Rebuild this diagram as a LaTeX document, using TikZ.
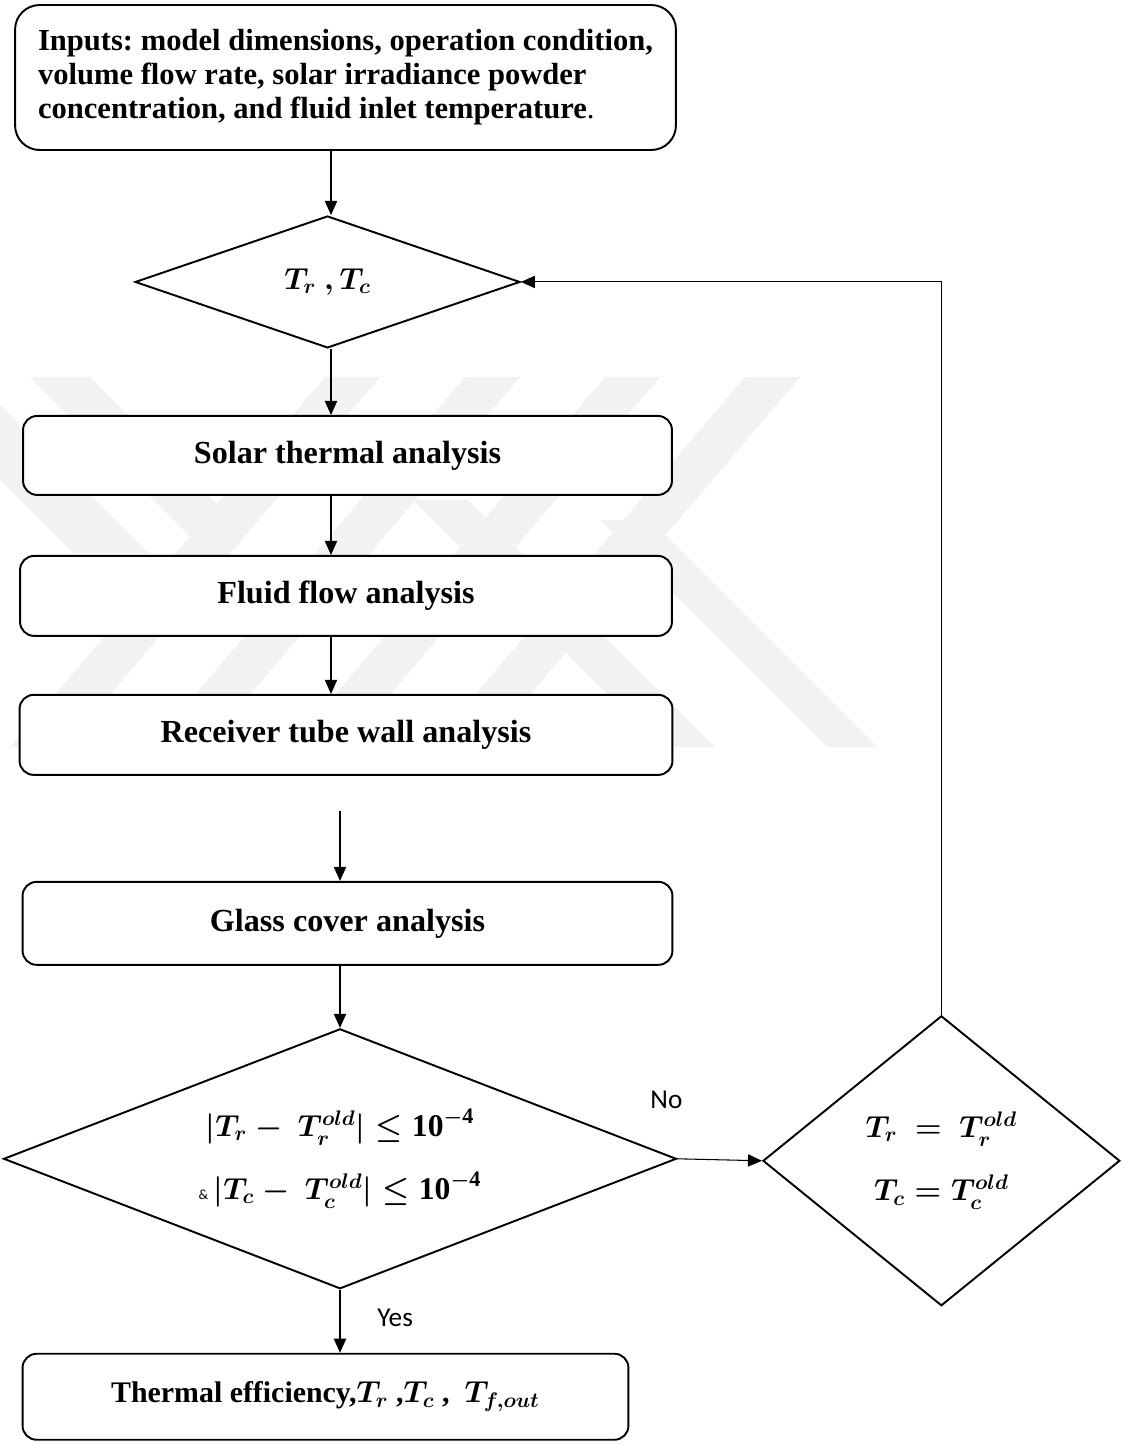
\documentclass[tikz,border=0pt]{standalone}
\usepackage{amsmath}
\usepackage{amssymb}
\usepackage{fontspec}
\setmainfont{Liberation Serif}
\newfontfamily\labelfont{Carlito}
\usetikzlibrary{shapes,arrows.meta}
\tikzstyle{decision} = [diamond, draw, line width=1.1pt, fill=white,
    inner sep=0pt, align=center, font=\boldmath\fontsize{18}{20}\selectfont]
\tikzstyle{block} = [rectangle, draw, line width=1.1pt, fill=white,
    rounded corners=8pt, align=center, font=\bfseries\boldmath\fontsize{18.3}{20}\selectfont]
\tikzstyle{line} = [draw, line width=0.6pt, -{Triangle[length=8pt,width=7pt]}]
\tikzstyle{tag} = [font=\labelfont\fontsize{15.5}{18}\selectfont]
\tikzstyle{wmark} = [fill=black!5]
\newcommand{\ten}{\textbf{10}^{-\textbf{4}}}

\begin{document}
\frenchspacing
\begin{tikzpicture}[x=0.02cm, y=-0.02cm, node distance=2.8cm]
\useasboundingbox (0,0) rectangle (1128,1446);
 % watermark
   \fill[wmark] (30,377) -- (90,377) -- (217,504) -- (190,536) -- cycle;
   \fill[wmark] (0,405) -- (148,553) -- (73,553) -- (0,480) -- cycle;
   \foreach \t in {325,465,605,745}
     \fill[wmark] (\t,377) -- ++(55,0) -- ++(-314.5,370) -- ++(-55,0) -- cycle;
   \fill[wmark] (413,500) -- (468,500) -- (715,747) -- (660,747) -- cycle;
   \fill[wmark] (600,520) -- (650,520) -- (877,747) -- (827,747) -- cycle;

 % Place nodes
   \node[block, align=left, rounded corners=14pt, minimum width=13.22cm,
     minimum height=2.9cm, font=\bfseries\fontsize{17.4}{19.3}\selectfont] (inputs) at (345.5,77.5)
     {Inputs: model dimensions, operation condition,\\
      volume flow rate, solar irradiance powder\\
      concentration, and fluid inlet temperature{\mdseries .}};
    \node [decision, below of=inputs, node distance=4.09cm, xshift=-0.36cm, aspect=2.9,
      minimum width=7.7cm, minimum height=2.64cm] (guess) {$T_r\ ,T_c$};
    \node [block, below of=guess, node distance=3.47cm, xshift=0.4cm,
      minimum width=12.98cm, minimum height=1.58cm] (solar) {Solar thermal analysis};
    \node [block, below of=solar, node distance=2.81cm, xshift=-0.03cm,
      minimum width=13.04cm, minimum height=1.6cm] (fluid) {Fluid flow analysis};
    \node [block, below of=fluid, node distance=2.78cm,
      minimum width=13.06cm, minimum height=1.6cm] (recv) {Receiver tube wall analysis};
    \node [block, below of=recv, node distance=3.77cm, xshift=0.03cm,
      minimum width=13cm, minimum height=1.66cm] (glass) {Glass cover analysis};
    \node [decision, below of=glass, node distance=4.71cm, xshift=-0.15cm, aspect=2.59,
      minimum width=13.46cm, minimum height=5.2cm] (conv)
      {$|T_r -\ T_r^{old}| \le \ten$\\[14pt]
       {\labelfont\fontsize{8}{8}\selectfont\&}\,$|T_c -\ T_c^{old}| \le \ten$};
    \node [decision, right of=conv, node distance=12.03cm, yshift=-0.04cm, aspect=1.23,
      minimum width=7.14cm, minimum height=5.8cm] (update)
      {$T_r\ =\ T_r^{old}$\\[16pt] $T_c = T_c^{old}$};
    \node [block, below of=conv, node distance=4.76cm, xshift=-0.29cm,
      minimum width=12.12cm, minimum height=1.72cm, font=\bfseries\boldmath\fontsize{17}{20}\selectfont] (result)
      {Thermal efficiency,$T_r$ ,$T_c$ ,\ \ $T_{f,out}$};
   \coordinate (spine) at (331,0);

    % Draw edges
   \path [line] (inputs.south -| spine) -- (spine |- guess.north); \path [line]
   (guess.south -| spine) -- (solar.north -| spine); \path [line] (solar.south -| spine) --
   (fluid.north -| spine); \path [line] (fluid.south -| spine) -- (recv.north -| spine);
   \path [line, shorten <=0.7cm] (recv.south -| conv.north) -- (glass.north -| conv.north);
   \path [line] (glass.south -| conv.north) -- (conv.north); \path [line] (conv.east) --
   node [tag, pos=0, xshift=-0.22cm, yshift=1.18cm] {No} (update.west); \path [line]
   (update.north) |- (guess.east); \path [line] (conv.south) -- node [tag, pos=0.45, right,
   xshift=0.62cm] {Yes} (conv.south |- result.north);
\end{tikzpicture}
\end{document}
